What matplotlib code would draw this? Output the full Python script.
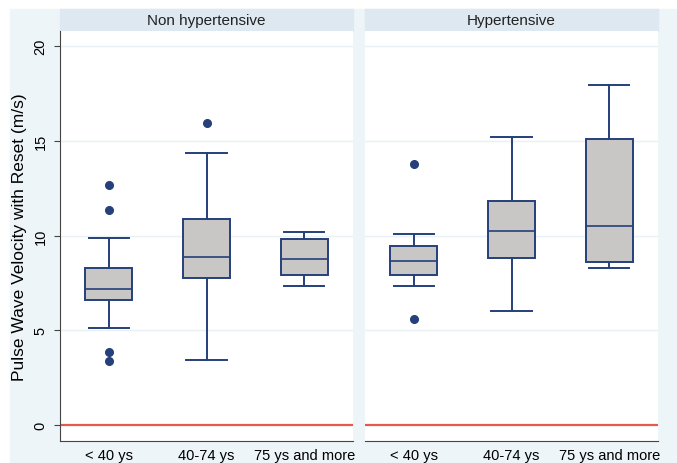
import matplotlib.pyplot as plt
import matplotlib.patches as mpatches

plt.rcParams['font.family'] = ['Liberation Sans', 'DejaVu Sans']

# Box plot summaries (m/s)
groups = ['< 40 ys', '40-74 ys', '75 ys and more']
panels = ['Non hypertensive', 'Hypertensive']

nonhyp_whislo = [5.14, 3.41, 7.32]
nonhyp_q1 = [6.61, 7.77, 7.93]
nonhyp_med = [7.18, 8.85, 8.78]
nonhyp_q3 = [8.28, 10.87, 9.80]
nonhyp_whishi = [9.90, 14.37, 10.18]
nonhyp_fliers = [[12.66, 11.36, 3.87, 3.38], [15.97], []]

hyp_whislo = [7.32, 6.02, 8.28]
hyp_q1 = [7.93, 8.80, 8.59]
hyp_med = [8.64, 10.25, 10.52]
hyp_q3 = [9.45, 11.82, 15.10]
hyp_whishi = [10.10, 15.23, 17.94]
hyp_fliers = [[13.77, 5.59], [], []]

navy = '#25407a'
box_fill = '#c9c6c6'
outer_bg = '#eef5f8'
strip_bg = '#dde8f0'

W, H = 677, 464
fig = plt.figure(figsize=(W / 100, H / 100), dpi=100, facecolor='white')

# outer graph region
fig.patches.append(mpatches.Rectangle((10 / W, 0), 1 - 10 / W, 1 - 10 / H,
                                      transform=fig.transFigure, color=outer_bg, zorder=-2))


def make_stats(whislo, q1, med, q3, whishi, fliers):
    stats = []
    for i in range(len(groups)):
        stats.append({'whislo': whislo[i], 'q1': q1[i], 'med': med[i], 'q3': q3[i],
                      'whishi': whishi[i], 'fliers': fliers[i], 'label': groups[i]})
    return stats


all_stats = [make_stats(nonhyp_whislo, nonhyp_q1, nonhyp_med, nonhyp_q3, nonhyp_whishi, nonhyp_fliers),
             make_stats(hyp_whislo, hyp_q1, hyp_med, hyp_q3, hyp_whishi, hyp_fliers)]

lefts = [60, 365]
pw = 293
bottom, top = 442, 32

for k, (x0, title, stats) in enumerate(zip(lefts, panels, all_stats)):
    ax = fig.add_axes([x0 / W, 1 - bottom / H, pw / W, (bottom - top) / H])
    ax.set_zorder(1)
    ax.set_facecolor('white')
    ax.bxp(stats, positions=[1, 2, 3], widths=0.48, capwidths=0.41, patch_artist=True,
           boxprops=dict(facecolor=box_fill, edgecolor=navy, linewidth=1.4),
           medianprops=dict(color=navy, linewidth=1.2),
           whiskerprops=dict(color=navy, linewidth=1.4),
           capprops=dict(color=navy, linewidth=1.4),
           flierprops=dict(marker='o', markerfacecolor=navy, markeredgecolor=navy, markersize=5.5))
    ax.set_xlim(0.5, 3.5)
    ax.set_ylim(-0.84, 20.8)
    for g in [5, 10, 15, 20]:
        ax.axhline(g, color='#eaf1f4', linewidth=1, zorder=0)
    ax.axhline(0, color='#e8574c', linewidth=1.6, zorder=1)
    ax.set_xticks([1, 2, 3])
    ax.set_xticklabels(groups, fontsize=10.5)
    ax.tick_params(axis='x', length=0, pad=5)
    for s in ['top', 'right']:
        ax.spines[s].set_visible(False)
    ax.spines['bottom'].set_color('#444444')
    if k == 0:
        ax.set_yticks([0, 5, 10, 15, 20])
        ax.set_yticklabels(['0', '5', '10', '15', '20'], rotation=90, va='center', fontsize=10.5)
        ax.tick_params(axis='y', length=4, color='#444444', pad=5)
        ax.spines['left'].set_color('#444444')
        ax.set_ylabel('Pulse Wave Velocity with Reset (m/s)', fontsize=12.5, labelpad=5)
    else:
        ax.set_yticks([])
        ax.spines['left'].set_visible(False)

    # panel title strip
    fig.patches.append(mpatches.Rectangle((x0 / W, 1 - 32 / H), pw / W, 22 / H,
                                          transform=fig.transFigure, color=strip_bg, zorder=-1))
    fig.text((x0 + pw / 2) / W, 1 - 21 / H, title, ha='center', va='center', fontsize=11,
             color='#222222')

fig.savefig('out.png', dpi=100, facecolor='white')
